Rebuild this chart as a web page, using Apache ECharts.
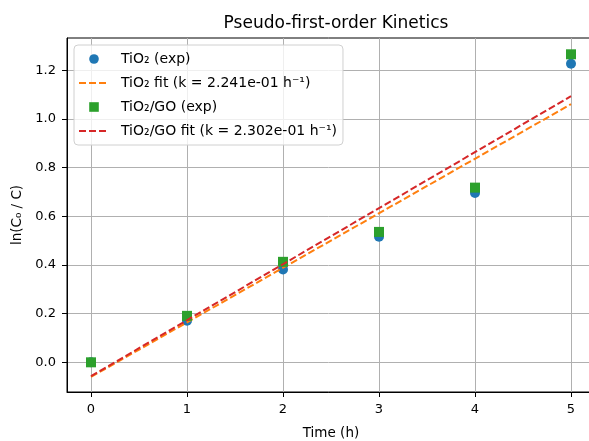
<!DOCTYPE html>
<html>
<head>
<meta charset="utf-8">
<script src="https://cdn.jsdelivr.net/npm/echarts@6/dist/echarts.min.js"></script>
<style>html,body{margin:0;padding:0;background:#fff}#c{width:589px;height:441px}</style>
</head>
<body>
<div id="c"></div>
<script>
const time = [0, 1, 2, 3, 4, 5];
const tio2Exp = [0, 0.171, 0.382, 0.516, 0.696, 1.227];
const tio2GoExp = [0, 0.191, 0.413, 0.536, 0.718, 1.266];
const fitTime = [0, 5];
const tio2Fit = [-0.060, 1.061];
const tio2GoFit = [-0.057, 1.094];
const xTicks = [0, 1, 2, 3, 4, 5];
const yTicks = [0, 0.2, 0.4, 0.6, 0.8, 1.0, 1.2];
const names = ['TiO\u2082 (exp)', 'TiO\u2082 fit (k = 2.241e-01 h\u207b\u00b9)', 'TiO\u2082/GO (exp)', 'TiO\u2082/GO fit (k = 2.302e-01 h\u207b\u00b9)'];

const pairs = (xs, ys) => xs.map((x, i) => [x, ys[i]]);
const font = 'DejaVu Sans';
const chart = echarts.init(document.getElementById('c'), null, {renderer: 'canvas'});
chart.setOption({
  animation: false,
  title: {text: 'Pseudo-first-order Kinetics', left: 331, top: 10, textAlign: 'center',
    textStyle: {fontFamily: font, fontSize: 17, fontWeight: 'normal', color: '#000'}},
  grid: {left: 67, top: 38, height: 354, width: 528, show: true, borderColor: '#000', borderWidth: 1,
    containLabel: false, outerBoundsMode: 'none'},
  legend: {
    orient: 'vertical', left: 74, top: 45, itemWidth: 30, itemHeight: 12, itemGap: 8,
    padding: [6, 6, 6, 4], backgroundColor: 'rgba(255,255,255,0.8)', borderColor: '#d0d0d0', borderWidth: 1, borderRadius: 4,
    textStyle: {fontFamily: font, fontSize: 14, color: '#000', lineHeight: 16, padding: [0, 0, 0, 7]},
    data: [
      {name: names[0]},
      {name: names[1], itemStyle: {opacity: 0}},
      {name: names[2]},
      {name: names[3], itemStyle: {opacity: 0}}
    ]
  },
  xAxis: {
    type: 'value', min: -0.25, max: 5.25, minInterval: 1, maxInterval: 1,
    name: 'Time (h)', nameLocation: 'middle', nameGap: 34,
    nameTextStyle: {fontFamily: font, fontSize: 13.5, color: '#000'},
    axisLine: {show: true, onZero: false, lineStyle: {color: '#000', width: 1}},
    axisTick: {show: true, length: 5, lineStyle: {color: '#000'}, customValues: xTicks},
    axisLabel: {fontFamily: font, fontSize: 13, color: '#000', margin: 11, customValues: xTicks,
      formatter: v => String(v)},
    splitLine: {show: true, lineStyle: {color: '#b0b0b0', width: 1}}
  },
  yAxis: {
    type: 'value', min: -0.122, max: 1.333, minInterval: 0.2, maxInterval: 0.2,
    name: 'ln(C\u2080 / C)', nameLocation: 'middle', nameGap: 36, nameRotate: 90,
    nameTextStyle: {fontFamily: font, fontSize: 13.5, color: '#000'},
    axisLine: {show: true, onZero: false, lineStyle: {color: '#000', width: 1}},
    axisTick: {show: true, length: 5, lineStyle: {color: '#000'}, customValues: yTicks},
    axisLabel: {fontFamily: font, fontSize: 13, color: '#000', margin: 11, customValues: yTicks,
      formatter: v => v.toFixed(1)},
    splitLine: {show: true, lineStyle: {color: '#b0b0b0', width: 1}}
  },
  series: [
    {name: names[0], type: 'line', data: pairs(time, tio2Exp), symbol: 'circle', symbolSize: 10, showSymbol: true,
      itemStyle: {color: '#1f77b4'}, lineStyle: {opacity: 0, width: 0}, z: 2, emphasis: {disabled: true}},
    {name: names[1], type: 'line', data: pairs(fitTime, tio2Fit), symbol: 'none', color: '#ff7f0e',
      lineStyle: {color: '#ff7f0e', width: 2, type: [7, 3]}, z: 3, emphasis: {disabled: true}},
    {name: names[2], type: 'line', data: pairs(time, tio2GoExp), symbol: 'rect', symbolSize: 10, showSymbol: true,
      itemStyle: {color: '#2ca02c'}, lineStyle: {opacity: 0, width: 0}, z: 4, emphasis: {disabled: true}},
    {name: names[3], type: 'line', data: pairs(fitTime, tio2GoFit), symbol: 'none', color: '#d62728',
      lineStyle: {color: '#d62728', width: 2, type: [7, 3]}, z: 5, emphasis: {disabled: true}}
  ]
});
</script>
</body>
</html>
